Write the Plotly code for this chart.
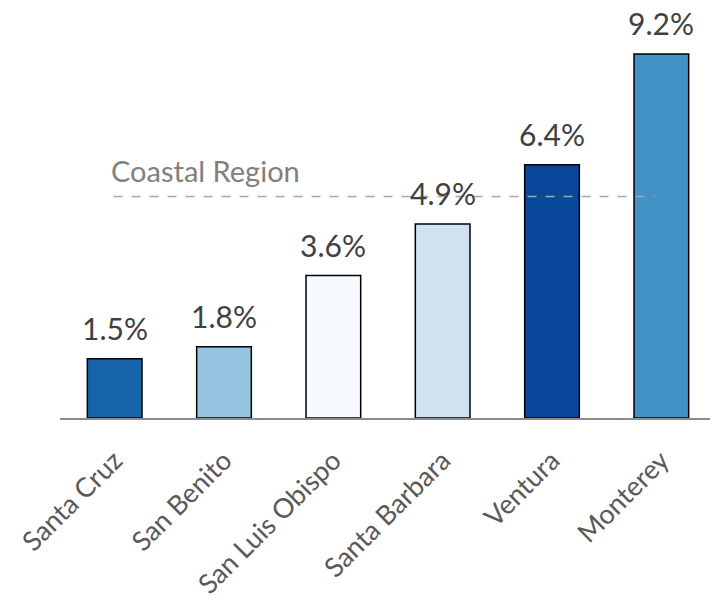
import plotly.graph_objects as go

counties = ["Santa Cruz", "San Benito", "San Luis Obispo", "Santa Barbara", "Ventura", "Monterey"]
values = [1.5, 1.8, 3.6, 4.9, 6.4, 9.2]
bar_colors = ["#1764ab", "#94c4df", "#f7fbff", "#d0e1f2", "#08479a", "#4292c6"]
coastal_value = 5.6
coastal_label = "Coastal Region"

FONT = "Lato, Open Sans, sans-serif"

fig = go.Figure()
fig.add_trace(go.Bar(
    x=counties, y=values,
    marker=dict(color=bar_colors, line=dict(color="#000000", width=1.5)),
    width=0.5,
    hoverinfo="skip",
))

for c, v in zip(counties, values):
    fig.add_annotation(x=c, y=v, text=f"{v:.1f}%", showarrow=False,
                       yanchor="bottom", yshift=11,
                       font=dict(family=FONT, size=30, color="#404040"))

fig.add_shape(type="line", xref="x", yref="y", x0=-0.01, x1=4.94,
              y0=coastal_value, y1=coastal_value,
              line=dict(color="#a6a6a6", width=1.5, dash="dash"), layer="above")
fig.add_annotation(xref="x", yref="y", x=-0.05, y=coastal_value, text=coastal_label,
                   showarrow=False, xanchor="left", yanchor="bottom", yshift=6,
                   font=dict(family=FONT, size=29, color="#808080"))

fig.update_layout(
    width=718, height=601,
    margin=dict(l=52, r=10, t=0, b=191),
    plot_bgcolor="white", paper_bgcolor="white",
    showlegend=False,
    xaxis=dict(tickangle=-45, tickfont=dict(family=FONT, size=27, color="#595959"),
               showline=True, linecolor="#8c8c8c", linewidth=2, ticks="",
               showgrid=False, automargin=False, ticklabelstandoff=14),
    yaxis=dict(range=[0, 10.36], visible=False, showgrid=False, zeroline=False),
)

fig.write_html("out.html")
